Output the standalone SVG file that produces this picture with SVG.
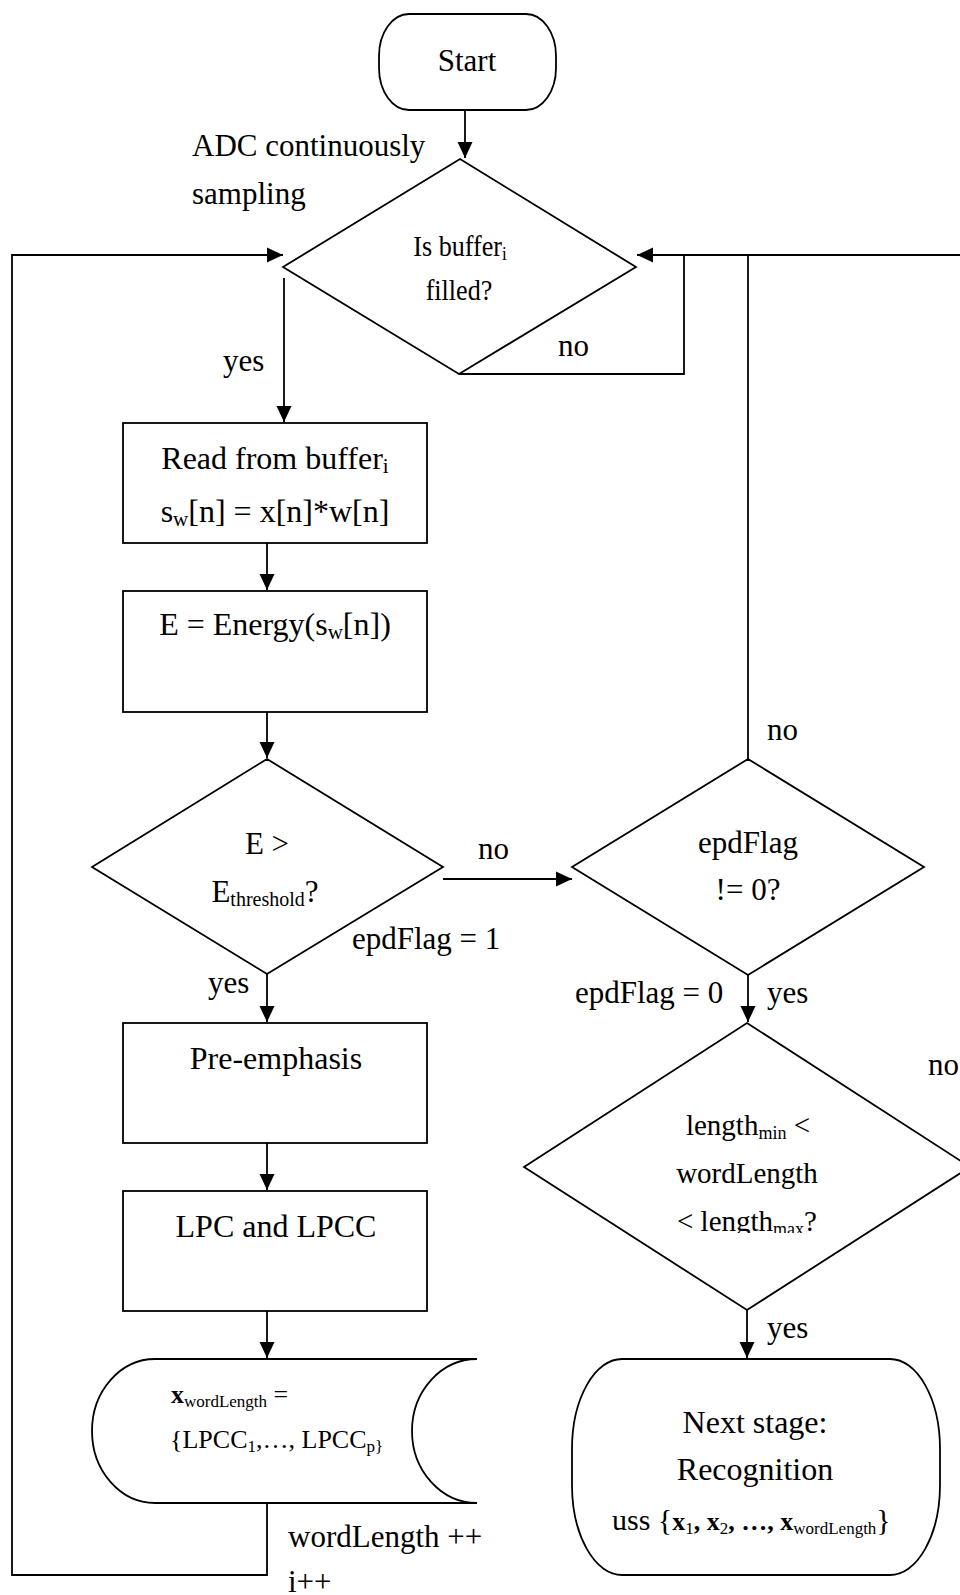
<svg xmlns="http://www.w3.org/2000/svg" width="960" height="1595" viewBox="0 0 960 1595">
  <style>
    .shape { fill: #ffffff; stroke: #000000; stroke-width: 1.8; }
    .conn { fill: none; stroke: #000000; stroke-width: 1.8; }
    text { font-family: "Liberation Serif", "Times New Roman", serif; fill: #000000; }
    .t31 { font-size: 31px; }
    .t32 { font-size: 32px; }
    .t29 { font-size: 29px; }
    .t26 { font-size: 26px; }
    .mid { text-anchor: middle; }
  </style>
  <defs>
    <marker id="arrow" markerWidth="16" markerHeight="16" refX="16" refY="8" orient="auto" markerUnits="userSpaceOnUse">
      <path d="M0,0.5 L16,8 L0,15.5 Z" fill="#000000"/>
    </marker>
    <clipPath id="clipLen">
      <rect x="500" y="1000" width="460" height="233"/>
    </clipPath>
  </defs>

  <rect x="0" y="0" width="960" height="1595" fill="#ffffff"/>

  <!-- connectors -->
  <g id="connectors">
    <!-- start to buffer check -->
    <line class="conn" x1="465" y1="110" x2="465" y2="158" marker-end="url(#arrow)"/>
    <!-- buffer filled: yes -->
    <line class="conn" x1="284" y1="278" x2="284" y2="422" marker-end="url(#arrow)"/>
    <!-- buffer not filled: loop back -->
    <polyline class="conn" points="459,374 684,374 684,255"/>
    <!-- return line along the top, entering the buffer check from the right -->
    <polyline class="conn" points="970,1167 990,1167 990,255 637,255" marker-end="url(#arrow)"/>
    <!-- epdFlag == 0 : back to top line -->
    <line class="conn" x1="748" y1="759" x2="748" y2="255"/>
    <!-- read -> energy -->
    <line class="conn" x1="267" y1="543" x2="267" y2="590" marker-end="url(#arrow)"/>
    <!-- energy -> threshold -->
    <line class="conn" x1="267" y1="712" x2="267" y2="758" marker-end="url(#arrow)"/>
    <!-- threshold no -> epdFlag check -->
    <line class="conn" x1="443" y1="879" x2="572" y2="879" marker-end="url(#arrow)"/>
    <!-- threshold yes -> pre-emphasis -->
    <line class="conn" x1="267" y1="974" x2="267" y2="1022" marker-end="url(#arrow)"/>
    <!-- pre-emphasis -> LPC -->
    <line class="conn" x1="267" y1="1143" x2="267" y2="1190" marker-end="url(#arrow)"/>
    <!-- LPC -> feature store -->
    <line class="conn" x1="267" y1="1311" x2="267" y2="1358" marker-end="url(#arrow)"/>
    <!-- feature store -> loop back to buffer check -->
    <polyline class="conn" points="267,1503 267,1575 12,1575 12,255 283,255" marker-end="url(#arrow)"/>
    <!-- epdFlag yes -> length check -->
    <line class="conn" x1="748" y1="975" x2="748" y2="1022" marker-end="url(#arrow)"/>
    <!-- length ok -> recognition -->
    <line class="conn" x1="747" y1="1310" x2="747" y2="1358" marker-end="url(#arrow)"/>
  </g>

  <!-- connector labels -->
  <g id="labels">
    <text class="t31" x="192" y="156">ADC continuously</text>
    <text class="t31" x="192" y="204">sampling</text>
    <text class="t31" x="223" y="371">yes</text>
    <text class="t31" x="558" y="356">no</text>
    <text class="t31" x="478" y="859">no</text>
    <text class="t31" x="352" y="949">epdFlag = 1</text>
    <text class="t31" x="208" y="993">yes</text>
    <text class="t31" x="767" y="740">no</text>
    <text class="t31" x="575" y="1003">epdFlag = 0</text>
    <text class="t31" x="767" y="1003">yes</text>
    <text class="t31" x="928" y="1075">no</text>
    <text class="t31" x="767" y="1338">yes</text>
    <text class="t31" x="288" y="1547">wordLength ++</text>
    <text class="t31" x="288" y="1592">i++</text>
  </g>

  <g id="start">
    <rect class="shape" x="379" y="14" width="177" height="96" rx="30" ry="42"/>
    <text class="t31 mid" x="467" y="71">Start</text>
  </g>

  <g id="bufferCheck">
    <polygon class="shape" points="460,159 636,267 459,374 283,267"/>
    <!-- condensed caption inside the first decision -->
    <text class="mid" font-size="29" transform="translate(460,256) scale(0.9,1)" x="0" y="0">Is buffer<tspan font-size="19" dy="4">i</tspan></text>
    <text class="mid" font-size="29" transform="translate(459,300) scale(0.9,1)" x="0" y="0">filled?</text>
  </g>

  <g id="readBuffer">
    <rect class="shape" x="123" y="423" width="304" height="120"/>
    <text class="t32 mid" x="275" y="469">Read from buffer<tspan font-size="21" dy="4">i</tspan></text>
    <text class="t32 mid" x="275" y="522">s<tspan font-size="21" dy="4">w</tspan><tspan dy="-4">[n] = x[n]*w[n]</tspan></text>
  </g>

  <g id="energy">
    <rect class="shape" x="123" y="591" width="304" height="121"/>
    <text class="t32 mid" x="275" y="635">E = Energy(s<tspan font-size="21" dy="4">w</tspan><tspan dy="-4">[n])</tspan></text>
  </g>

  <g id="thresholdCheck">
    <polygon class="shape" points="267,759 443,867 267,974 92,867"/>
    <text class="t31 mid" x="267" y="854">E &gt;</text>
    <text class="t31 mid" x="265" y="902">E<tspan font-size="20" dy="4">threshold</tspan><tspan dy="-4">?</tspan></text>
  </g>

  <g id="preEmphasis">
    <rect class="shape" x="123" y="1023" width="304" height="120"/>
    <text class="t32 mid" x="276" y="1069">Pre-emphasis</text>
  </g>

  <g id="lpc">
    <rect class="shape" x="123" y="1191" width="304" height="120"/>
    <text class="t32 mid" x="276" y="1237">LPC and LPCC</text>
  </g>

  <g id="featureStore">
    <path class="shape" d="M155,1359 H477 A65,72 0 0 0 477,1503 H155 A63,72 0 0 1 155,1359 Z"/>
    <text class="t26" x="171" y="1403"><tspan font-weight="bold">x</tspan><tspan font-size="17" dy="4">wordLength</tspan><tspan dy="-4"> =</tspan></text>
    <text class="t26" x="170" y="1448">{LPCC<tspan font-size="17" dy="4">1</tspan><tspan dy="-4">,…, LPCC</tspan><tspan font-size="17" dy="4">p}</tspan></text>
  </g>

  <g id="epdFlagCheck">
    <polygon class="shape" points="748,759 924,867 748,975 572,867"/>
    <text class="t31 mid" x="748" y="853">epdFlag</text>
    <text class="t31 mid" x="748" y="900">!= 0?</text>
  </g>

  <g id="lengthCheck">
    <polygon class="shape" points="747,1023 970,1167 747,1310 524,1167"/>
    <text class="t29 mid" x="748" y="1135">length<tspan font-size="18" dy="4">min</tspan><tspan dy="-4"> &lt;</tspan></text>
    <text class="t29 mid" x="747" y="1183">wordLength</text>
    <text class="t29 mid" x="747" y="1231" clip-path="url(#clipLen)">&lt; length<tspan font-size="18" dy="4">max</tspan><tspan dy="-4">?</tspan></text>
  </g>

  <g id="recognition">
    <rect class="shape" x="572" y="1359" width="368" height="216" rx="50" ry="90"/>
    <text class="t32 mid" x="755" y="1433">Next stage:</text>
    <text class="t32 mid" x="755" y="1480">Recognition</text>
    <text x="612" y="1530" font-size="30">uss <tspan>{</tspan><tspan font-size="26" font-weight="bold">x</tspan><tspan font-size="17" dy="4">1</tspan><tspan font-size="26" font-weight="bold" dy="-4">, x</tspan><tspan font-size="17" dy="4">2</tspan><tspan font-size="26" font-weight="bold" dy="-4">, …, x</tspan><tspan font-size="17" dy="4">wordLength</tspan><tspan dy="-4">}</tspan></text>
  </g>
</svg>
